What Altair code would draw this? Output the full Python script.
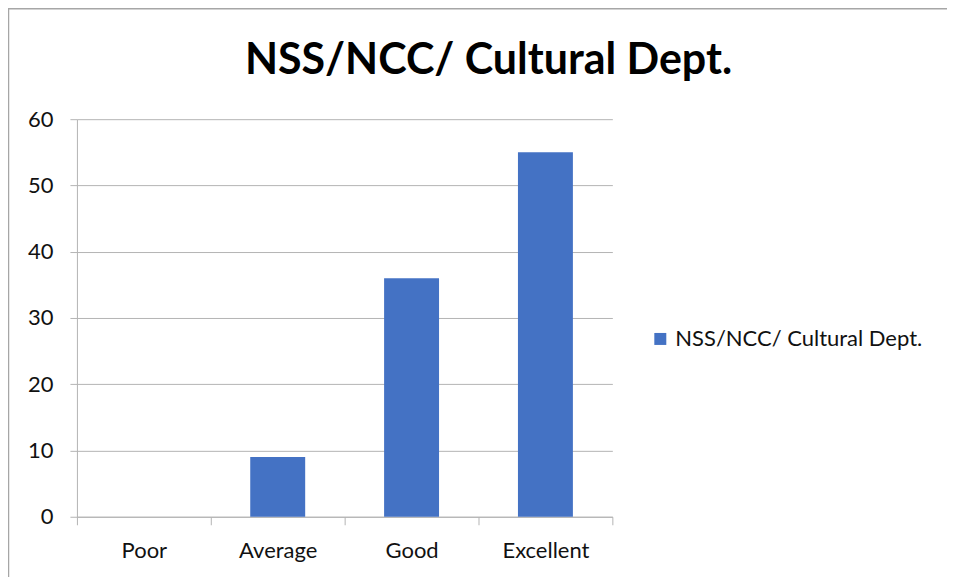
import altair as alt
import pandas as pd

categories = ["Poor", "Average", "Good", "Excellent"]
values = [0, 9, 36, 55]
series_name = "NSS/NCC/ Cultural Dept."

df = pd.DataFrame({"category": categories, "value": values, "series": [series_name] * len(categories)})

FONT = "Lato"
GRID = "#b4b4b4"
LBL = 22

bars = alt.Chart(df).mark_bar(size=55).encode(
    x=alt.X("category:N", sort=categories,
            scale=alt.Scale(paddingInner=0, paddingOuter=0),
            axis=alt.Axis(title=None, labelAngle=0, tickBand="extent", tickSize=8,
                          labelPadding=16, labelFontSize=LBL, labelFont=FONT, labelColor="#111111",
                          domainColor=GRID, tickColor=GRID, grid=False)),
    y=alt.Y("value:Q", scale=alt.Scale(domain=[0, 60]),
            axis=alt.Axis(title=None, values=[0, 10, 20, 30, 40, 50, 60], tickSize=7,
                          labelPadding=17, labelFontSize=LBL, labelFont=FONT, labelColor="#111111",
                          domainColor=GRID, tickColor=GRID, gridColor=GRID, grid=True)),
    color=alt.Color("series:N", scale=alt.Scale(range=["#4472C4"]),
                    legend=alt.Legend(title=None, orient="none", legendX=573, legendY=209,
                                      symbolType="square", symbolSize=144, symbolStrokeWidth=0,
                                      labelFontSize=LBL, labelFont=FONT, labelColor="#111111",
                                      labelLimit=400)),
)

one = pd.DataFrame({"title": [series_name]})
left_line = alt.Chart(one).mark_rule(color="#a6a6a6", strokeWidth=1.5).encode(
    x=alt.value(-68.5), y=alt.value(-111), y2=alt.value(460)
)
top_line = alt.Chart(one).mark_rule(color="#a6a6a6", strokeWidth=1.5).encode(
    x=alt.value(-69), x2=alt.value(871), y=alt.value(-110.5)
)
title = alt.Chart(one).mark_text(font=FONT, fontSize=43, fontWeight="bold", color="#000000",
                                 align="center", baseline="alphabetic").encode(
    text="title:N", x=alt.value(412), y=alt.value(-45)
)

chart = alt.layer(left_line, top_line, title, bars).properties(
    width=536, height=398,
    padding={"left": 69, "top": 111, "right": 335, "bottom": 60},
    autosize=alt.AutoSizeParams(type="none"),
).configure_view(stroke=None).configure_axis(labelFlush=False)

chart.save("out.html", embed_options={"renderer": "svg", "actions": False})
